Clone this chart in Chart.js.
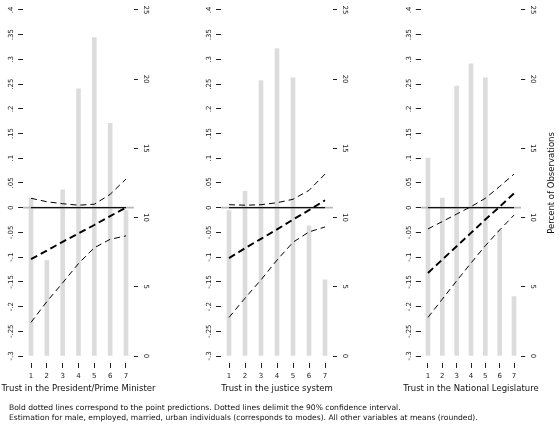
<!DOCTYPE html>
<html><head><meta charset="utf-8">
<script src="https://cdn.jsdelivr.net/npm/chart.js@4.4.1/dist/chart.umd.min.js"></script>
<style>
html,body{margin:0;padding:0;background:#fff;}
#wrap{position:relative;width:559px;height:424px;overflow:hidden;background:#fff;}
canvas{position:absolute;left:0;top:0;}
.note{position:absolute;left:9px;font-family:'DejaVu Sans',sans-serif;font-size:7.6px;line-height:10px;color:#111;white-space:nowrap;}
</style></head><body>
<div id="wrap">
<canvas id="c1" width="559" height="424"></canvas>
<canvas id="c2" width="559" height="424"></canvas>
<canvas id="c3" width="559" height="424"></canvas>
<div class="note" style="top:403px">Bold dotted lines correspond to the point predictions. Dotted lines delimit the 90% confidence interval.</div>
<div class="note" style="top:413px">Estimation for male, employed, married, urban individuals (corresponds to modes). All other variables at means (rounded).</div>
</div>
<script>
// ---- data ----
const categories = [1, 2, 3, 4, 5, 6, 7];
const leftTicks = [-0.3, -0.25, -0.2, -0.15, -0.1, -0.05, 0, 0.05, 0.1, 0.15, 0.2, 0.25, 0.3, 0.35, 0.4];
const rightTicks = [0, 5, 10, 15, 20, 25];
const xTitles = ["Trust in the President/Prime Minister", "Trust in the justice system", "Trust in the National Legislature"];
const rightTitle = "Percent of Observations";

// percent of observations (histogram bars, right axis)
const pctPresident   = [11.4, 6.9, 12.0, 19.3, 23.0, 16.8, 10.5];
const pctJustice     = [10.5, 11.9, 19.9, 22.2, 20.1, 9.4, 5.5];
const pctLegislature = [14.3, 11.4, 19.5, 21.1, 20.1, 9.1, 4.3];

// point predictions and 90% CI (left axis)
const predPresident = [-0.104, -0.087, -0.069, -0.052, -0.035, -0.017, 0.0];
const lowPresident  = [-0.232, -0.190, -0.152, -0.113, -0.081, -0.064, -0.057];
const highPresident = [0.019, 0.012, 0.008, 0.005, 0.007, 0.027, 0.058];

const predJustice = [-0.102, -0.082, -0.063, -0.044, -0.024, -0.005, 0.015];
const lowJustice  = [-0.222, -0.183, -0.146, -0.106, -0.070, -0.049, -0.039];
const highJustice = [0.006, 0.005, 0.006, 0.010, 0.017, 0.035, 0.068];

const predLegislature = [-0.132, -0.105, -0.078, -0.051, -0.024, 0.002, 0.029];
const lowLegislature  = [-0.222, -0.185, -0.148, -0.112, -0.077, -0.045, -0.015];
const highLegislature = [-0.043, -0.028, -0.013, 0.002, 0.019, 0.043, 0.068];

// ---- layout ----
const FONT = "'DejaVu Sans', sans-serif";
const PLOT_TOP = 9.9, DATA_BOTTOM = 356, AXIS_GAP = 7;
const yMax = 0.4, yLow = -0.3;
const yMin = yLow - (yMax - yLow) * AXIS_GAP / (DATA_BOTTOM - PLOT_TOP);
const y2Min = (yMin - yLow) * 25 / (yMax - yLow);

function fmtLeft(v) {
  if (Math.abs(v) < 1e-9) return '0';
  let s = Math.abs(v).toFixed(2).replace(/0+$/, '').replace(/^0/, '');
  return (v < 0 ? '-' : '') + s;
}

const labelPlugin = {
  id: 'rotLabels',
  afterDraw(chart, args, opts) {
    const ctx = chart.ctx, ca = chart.chartArea;
    ctx.save();
    ctx.fillStyle = '#222';
    ctx.font = '7px ' + FONT;
    ctx.textAlign = 'center';
    ctx.textBaseline = 'middle';
    chart.scales.y.ticks.forEach(t => {
      const py = chart.scales.y.getPixelForValue(t.value);
      ctx.save(); ctx.translate(ca.left - 11.5, py); ctx.rotate(-Math.PI / 2);
      ctx.fillText(fmtLeft(t.value), 0, 0); ctx.restore();
    });
    chart.scales.y2.ticks.forEach(t => {
      const py = chart.scales.y2.getPixelForValue(t.value);
      ctx.save(); ctx.translate(ca.right + 12, py); ctx.rotate(Math.PI / 2);
      ctx.fillText(String(t.value), 0, 0); ctx.restore();
    });
    ctx.fillStyle = '#111';
    ctx.font = '8.5px ' + FONT;
    ctx.fillText(opts.xTitle, (ca.left + ca.right) / 2, 389);
    if (opts.rightTitle) {
      ctx.save(); ctx.translate(ca.right + 31, (PLOT_TOP + DATA_BOTTOM) / 2); ctx.rotate(-Math.PI / 2);
      ctx.fillText(opts.rightTitle, 0, 0); ctx.restore();
    }
    ctx.restore();
  }
};

function makeChart(id, bars, pred, low, high, title, padL, padR, rTitle) {
  const pts = arr => categories.map((c, i) => ({x: c, y: arr[i]}));
  return new Chart(document.getElementById(id), {
    type: 'bar',
    data: {
      datasets: [
        {type: 'bar', data: pts(bars), yAxisID: 'y2', backgroundColor: '#dcdcdc', barThickness: 4, order: 6},
        {type: 'line', data: [{x: 0.5, y: 0}, {x: 7.5, y: 0}], yAxisID: 'y', borderColor: '#b9b9b9', borderWidth: 1.6, pointRadius: 0, order: 5},
        {type: 'line', data: [{x: 1, y: 0}, {x: 7, y: 0}], yAxisID: 'y', borderColor: '#111', borderWidth: 1.1, pointRadius: 0, order: 4},
        {type: 'line', data: pts(high), yAxisID: 'y', borderColor: '#000', borderWidth: 1, borderDash: [6, 4], pointRadius: 0, tension: 0, order: 3},
        {type: 'line', data: pts(low), yAxisID: 'y', borderColor: '#000', borderWidth: 1, borderDash: [6, 4], pointRadius: 0, tension: 0, order: 2},
        {type: 'line', data: pts(pred), yAxisID: 'y', borderColor: '#000', borderWidth: 1.9, borderDash: [7, 4], pointRadius: 0, tension: 0, order: 1}
      ]
    },
    options: {
      responsive: false, animation: false, devicePixelRatio: 1, events: [],
      layout: {padding: {left: padL, right: padR, top: PLOT_TOP, bottom: 29}},
      plugins: {legend: {display: false}, tooltip: {enabled: false}, rotLabels: {rightTitle: rTitle, xTitle: title}},
      scales: {
        x: {
          type: 'linear', min: 0.5, max: 7.5, offset: false,
          afterBuildTicks: s => { s.ticks = categories.map(v => ({value: v})); },
          afterFit: s => { s.height = 32; },
          grid: {drawOnChartArea: false, drawTicks: true, tickLength: 5, color: '#222', offset: false},
          border: {display: false},
          ticks: {font: {family: FONT, size: 7}, color: '#222', padding: 3.5, maxRotation: 0, minRotation: 0, autoSkip: false},
          title: {display: false, text: title}
        },
        y: {
          position: 'left', min: yMin, max: yMax,
          afterBuildTicks: s => { s.ticks = leftTicks.map(v => ({value: v})); },
          afterFit: s => { s.width = 5; },
          grid: {drawOnChartArea: false, drawTicks: true, tickLength: 5, color: '#222'},
          border: {display: false},
          ticks: {display: false}
        },
        y2: {
          position: 'right', min: y2Min, max: 25,
          afterBuildTicks: s => { s.ticks = rightTicks.map(v => ({value: v})); },
          afterFit: s => { s.width = 5; },
          grid: {drawOnChartArea: false, drawTicks: true, tickLength: 4, color: '#222'},
          border: {display: false},
          ticks: {display: false}
        }
      }
    },
    plugins: [labelPlugin]
  });
}

makeChart('c1', pctPresident, predPresident, lowPresident, highPresident, xTitles[0], 18.1, 559 - 133.9 - 5, null);
makeChart('c2', pctJustice, predJustice, lowJustice, highJustice, xTitles[1], 216, 559 - 333 - 5, null);
makeChart('c3', pctLegislature, predLegislature, lowLegislature, highLegislature, xTitles[2], 415.8, 559 - 521.2 - 5, rightTitle);
</script>
</body></html>
